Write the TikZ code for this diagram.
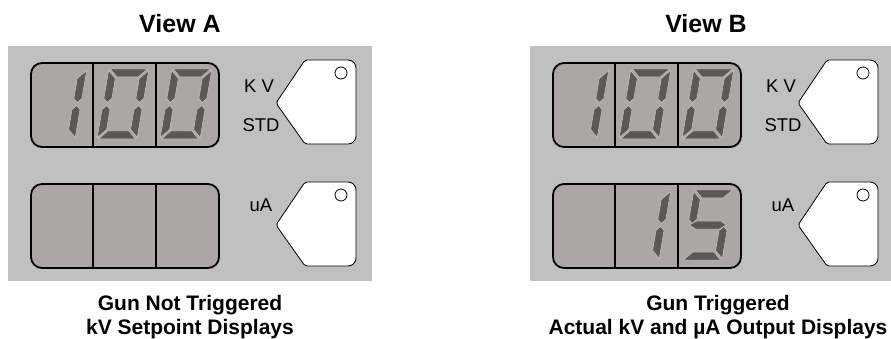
\documentclass[tikz,border=0pt]{standalone}
\usepackage{fontspec}
\setmainfont{Liberation Sans}

\definecolor{panelgray}{RGB}{192,192,192}
\definecolor{lcdgray}{RGB}{172,167,166}
\definecolor{seggray}{RGB}{92,88,88}
\definecolor{segedge}{RGB}{200,198,198}

\tikzset{
  panel/.style={fill=panelgray},
  lcd/.style={line width=1.8pt, rounded corners=11pt},
  divider/.style={draw=black, line width=1.4pt},
  seg/.style={fill=seggray, draw=segedge, line width=0.5pt},
  key/.style={draw=black, line width=0.8pt, fill=white},
  lbl/.style={font=\fontsize{18.5}{18.5}\selectfont, inner sep=0pt},
  title/.style={font=\fontsize{25}{25}\selectfont\bfseries, inner sep=0pt},
  caption/.style={font=\fontsize{21}{23.5}\selectfont\bfseries, align=center, inner sep=0pt},
}

% seven segments, W=40 H=70 t=8
\newcommand{\sega}{\fill[seg] (1.5,70) -- (38.5,70) -- (30.5,62) -- (9.5,62) -- cycle;}
\newcommand{\segb}{\fill[seg] (40,68.5) -- (40,40.5) -- (36,36.5) -- (32,40.5) -- (32,60.5) -- cycle;}
\newcommand{\segc}{\fill[seg] (40,1.5) -- (40,29.5) -- (36,33.5) -- (32,29.5) -- (32,9.5) -- cycle;}
\newcommand{\segd}{\fill[seg] (1.5,0) -- (38.5,0) -- (30.5,8) -- (9.5,8) -- cycle;}
\newcommand{\sege}{\fill[seg] (0,1.5) -- (8,9.5) -- (8,29.5) -- (4,33.5) -- (0,29.5) -- cycle;}
\newcommand{\segf}{\fill[seg] (0,68.5) -- (8,60.5) -- (8,40.5) -- (4,36.5) -- (0,40.5) -- cycle;}
\newcommand{\segg}{\fill[seg] (1.5,35) -- (8,39) -- (32,39) -- (38.5,35) -- (32,31) -- (8,31) -- cycle;}
\newcommand{\lcddigit}[3]{%
  \begin{scope}[shift={(#1,#2)}, xslant=0.17, yscale=-1]
    \foreach \s in {#3} {\csname seg\s\endcsname}
  \end{scope}}

\begin{document}
\begin{tikzpicture}[x=1pt, y=-1pt]
\useasboundingbox (0,0) rectangle (891,339);

% titles
\node[title, anchor=base] (viewa) at (180,33) {View A};
\node[title, anchor=base] (viewb) at (706,33) {View B};

% both panels
\foreach \ox/\p in {8/a, 530/b} {
  \begin{scope}[shift={(\ox,0)}]
    \fill[panel] (0,46) rectangle ({min(364,891-\ox)},281);
    \foreach \ly in {63,184} {
      \fill[lcd, lcdgray] (23,\ly) rectangle (211,\ly+84);
      \draw[divider] (85,\ly) -- (85,\ly+84);
      \draw[divider] (148,\ly) -- (148,\ly+84);
      \draw[lcd] (23,\ly) rectangle (211,\ly+84);
    }
    \foreach \ky in {0,122} {
      \draw[key] (268,103+\ky) [rounded corners=2pt] -- (297,60+\ky) [rounded corners=8pt] -- (348,60+\ky)
        -- (348,144+\ky) [rounded corners=2pt] -- (297,144+\ky) -- cycle;
      \draw[key] (333,73+\ky) circle[radius=6];
    }
    \node[lbl] (kv\p) at (251,86) {K V};
    \node[lbl] (std\p) at (253,125) {STD};
    \node[lbl] (ua\p) at (253,205) {uA};
  \end{scope}
}

% kV setpoint 100
\foreach \ox in {8,530} {
  \lcddigit{\ox+27}{139}{b,c}
  \lcddigit{\ox+89}{139}{a,b,c,d,e,f}
  \lcddigit{\ox+152}{139}{a,b,c,d,e,f}
}
% output 15 uA
\lcddigit{530+89}{260}{b,c}
\lcddigit{530+152}{260}{a,f,g,c,d}

% captions
\node[caption, anchor=base] (capa) at (190,334) {Gun Not Triggered\\kV Setpoint Displays};
\node[caption, anchor=base] (capb) at (718,334) {Gun Triggered\\Actual kV and µA Output Displays};
\end{tikzpicture}
\end{document}
